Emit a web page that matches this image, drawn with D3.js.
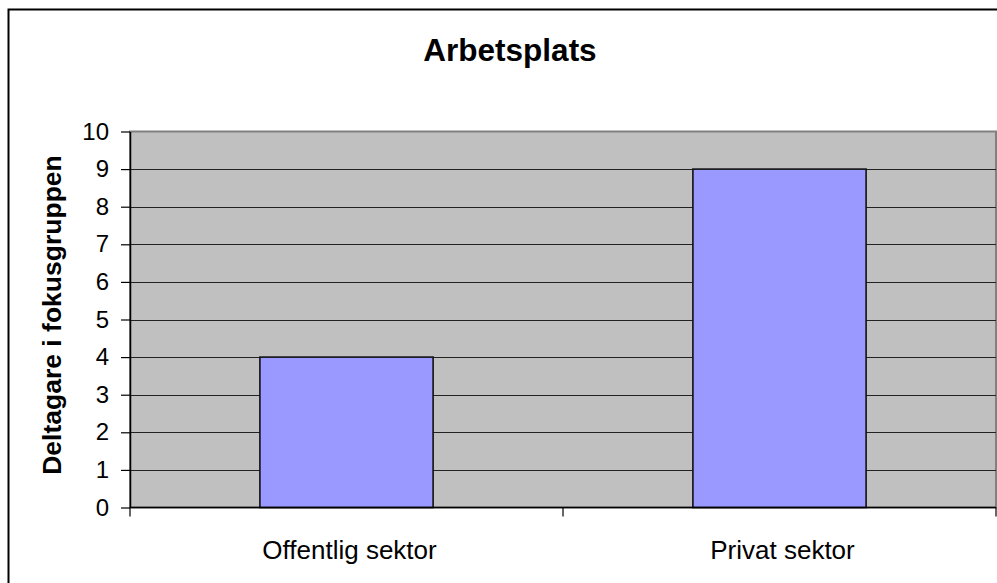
<!DOCTYPE html>
<html>
<head>
<meta charset="utf-8">
<script src="https://cdn.jsdelivr.net/npm/d3@7.9.0/dist/d3.min.js"></script>
<style>
  body { margin: 0; background: #fff; }
  svg { display: block; font-family: "Liberation Sans", Arial, sans-serif; }
</style>
</head>
<body>
<svg id="chart" width="997" height="583"></svg>
<script>
const categories = ['Offentlig sektor', 'Privat sektor'];
const values = [4, 9];
const yTicks = [0, 1, 2, 3, 4, 5, 6, 7, 8, 9, 10];
const chartTitle = 'Arbetsplats';
const yTitle = 'Deltagare i fokusgruppen';

const svg = d3.select('#chart');

const plot = { left: 130, right: 996, top: 131.5, bottom: 507.5 };

// outer chart frame (runs off the right and bottom edges)
svg.append('rect')
    .attr('x', 8.5).attr('y', 9.5)
    .attr('width', 1100).attr('height', 700)
    .attr('fill', 'none').attr('stroke', '#000').attr('stroke-width', 2);

const x = d3.scaleBand()
    .domain(categories)
    .range([plot.left, plot.right])
    .paddingInner(0);

const y = d3.scaleLinear()
    .domain([0, 10])
    .range([plot.bottom, plot.top]);

// plot area
svg.append('rect')
    .attr('x', plot.left).attr('y', plot.top)
    .attr('width', plot.right - plot.left).attr('height', plot.bottom - plot.top)
    .attr('fill', '#c0c0c0')
    .attr('stroke', '#808080').attr('stroke-width', 2);

// gridlines
svg.append('g')
    .selectAll('line')
    .data(yTicks.filter(d => d > 0 && d < 10))
    .join('line')
    .attr('x1', plot.left).attr('x2', plot.right)
    .attr('y1', d => Math.round(y(d)) + 0.5).attr('y2', d => Math.round(y(d)) + 0.5)
    .attr('stroke', '#222').attr('stroke-width', 1.2);

// bars: Excel gap width 150%
const barW = x.bandwidth() / 2.5;
svg.append('g')
    .selectAll('rect')
    .data(values)
    .join('rect')
    .attr('x', (d, i) => x(categories[i]) + (x.bandwidth() - barW) / 2)
    .attr('y', d => y(d))
    .attr('width', barW)
    .attr('height', d => y(0) - y(d))
    .attr('fill', '#9999ff')
    .attr('stroke', '#111').attr('stroke-width', 1.6);

// y axis
const yAxis = svg.append('g')
    .attr('transform', `translate(${plot.left},0)`)
    .call(d3.axisLeft(y).tickValues(yTicks).tickSize(9).tickPadding(12).tickSizeOuter(0));
yAxis.select('.domain').attr('stroke', '#000').attr('stroke-width', 1.5);
yAxis.selectAll('.tick line').attr('stroke', '#000').attr('stroke-width', 1.2);
yAxis.selectAll('.tick text')
    .attr('font-size', 24).attr('fill', '#000')
    .attr('font-family', '"Liberation Sans", Arial, sans-serif');

// x axis: ticks between categories
const xAxis = svg.append('g')
    .attr('transform', `translate(0,${plot.bottom})`);
xAxis.append('line')
    .attr('x1', plot.left).attr('x2', plot.right)
    .attr('stroke', '#000').attr('stroke-width', 1.5);
const xEdges = categories.map(c => x(c)).concat([x(categories[categories.length - 1]) + x.bandwidth()]);
xAxis.selectAll('line.xt')
    .data(xEdges)
    .join('line')
    .attr('class', 'xt')
    .attr('x1', d => d).attr('x2', d => d)
    .attr('y1', 0).attr('y2', 9)
    .attr('stroke', '#000').attr('stroke-width', 1.2);
xAxis.selectAll('text')
    .data(categories)
    .join('text')
    .attr('x', d => x(d) + x.bandwidth() / 2 + 3)
    .attr('y', 51)
    .attr('text-anchor', 'middle')
    .attr('font-size', 26)
    .text(d => d);

// titles
svg.append('text')
    .attr('x', 510).attr('y', 61)
    .attr('text-anchor', 'middle')
    .attr('font-size', 31.5).attr('font-weight', 'bold')
    .text(chartTitle);

svg.append('text')
    .attr('transform', 'translate(61,315) rotate(-90)')
    .attr('text-anchor', 'middle')
    .attr('font-size', 26.5).attr('font-weight', 'bold')
    .text(yTitle);
</script>
</body>
</html>
